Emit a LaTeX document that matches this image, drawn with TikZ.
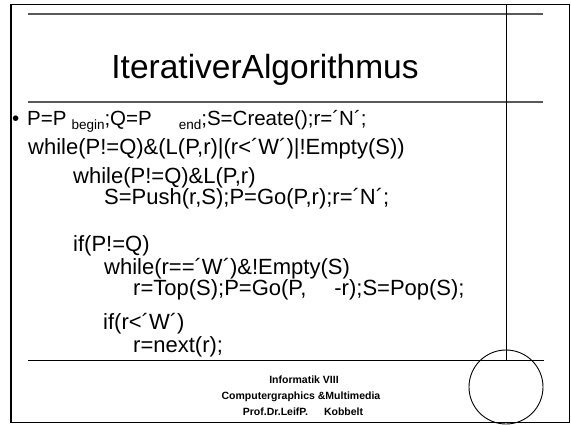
\documentclass[tikz,border=0pt]{standalone}
\usepackage{fontspec}
\setmainfont{Liberation Sans}
\begin{document}
\begin{tikzpicture}[x=1pt,y=-1pt,
  codeline/.style={anchor=base west,inner sep=0pt,font=\fontsize{22}{22}\selectfont},
  foot/.style={anchor=base,inner sep=0pt,font=\fontsize{10.5}{12}\selectfont\bfseries},
  grayrule/.style={line width=1.4pt,draw=black!65},
  thinrule/.style={line width=0.9pt,draw=black},
]
\useasboundingbox (0,0) rectangle (571,424);
\fill[white] (0,0) rectangle (571,424);
% frame
\draw[line width=1pt] (10,4) rectangle (569,422);
\draw[line width=2pt] (10.5,4) -- (10.5,422);
% rules
\draw[grayrule] (28,14) -- (543,14);
\draw[grayrule] (28,102) -- (543,102);
\draw[thinrule] (506,4) -- (506,360);
\draw[thinrule] (28,360) -- (544,360);
\draw[thinrule] (506,387) circle (37);
% title
\node[anchor=base,inner sep=0pt,font=\fontsize{33.5}{36}\selectfont] (title) at (265,78) {IterativerAlgorithmus};
% body
\node[codeline,font=\fontsize{20.5}{22}\selectfont] (bullet) at (12,125) {•};
\node[codeline,font=\fontsize{20.5}{22}\selectfont] (l1) at (27,125) {P=P\hspace{5pt}\raisebox{-4pt}{\fontsize{13.5}{14}\selectfont begin};Q=P\hspace{27pt}\raisebox{-4pt}{\fontsize{13.5}{14}\selectfont end};S=Create();r=´N´;};
\node[codeline] (l2) at (28,154) {while(P!=Q)\&(L(P,r)|(r<´W´)|!Empty(S))};
\node[codeline] (l3) at (73,183) {while(P!=Q)\&L(P,r)};
\node[codeline] (l4) at (104,204) {S=Push(r,S);P=Go(P,r);r=´N´;};
\node[codeline] (l5) at (73,251) {if(P!=Q)};
\node[codeline] (l6) at (104,274) {while(r==´W´)\&!Empty(S)};
\node[codeline] (l7) at (133,295) {r=Top(S);P=Go(P,\hspace{28pt}-r);S=Pop(S);};
\node[codeline] (l8) at (103,329) {if(r<´W´)};
\node[codeline] (l9) at (133,352) {r=next(r);};
% footer
\node[foot] (f1) at (304,383) {Informatik VIII};
\node[foot] (f2) at (301,399) {Computergraphics \&Multimedia};
\node[foot] (f3) at (303,415) {Prof.Dr.LeifP.\hspace{16pt}Kobbelt};
\end{tikzpicture}
\end{document}
